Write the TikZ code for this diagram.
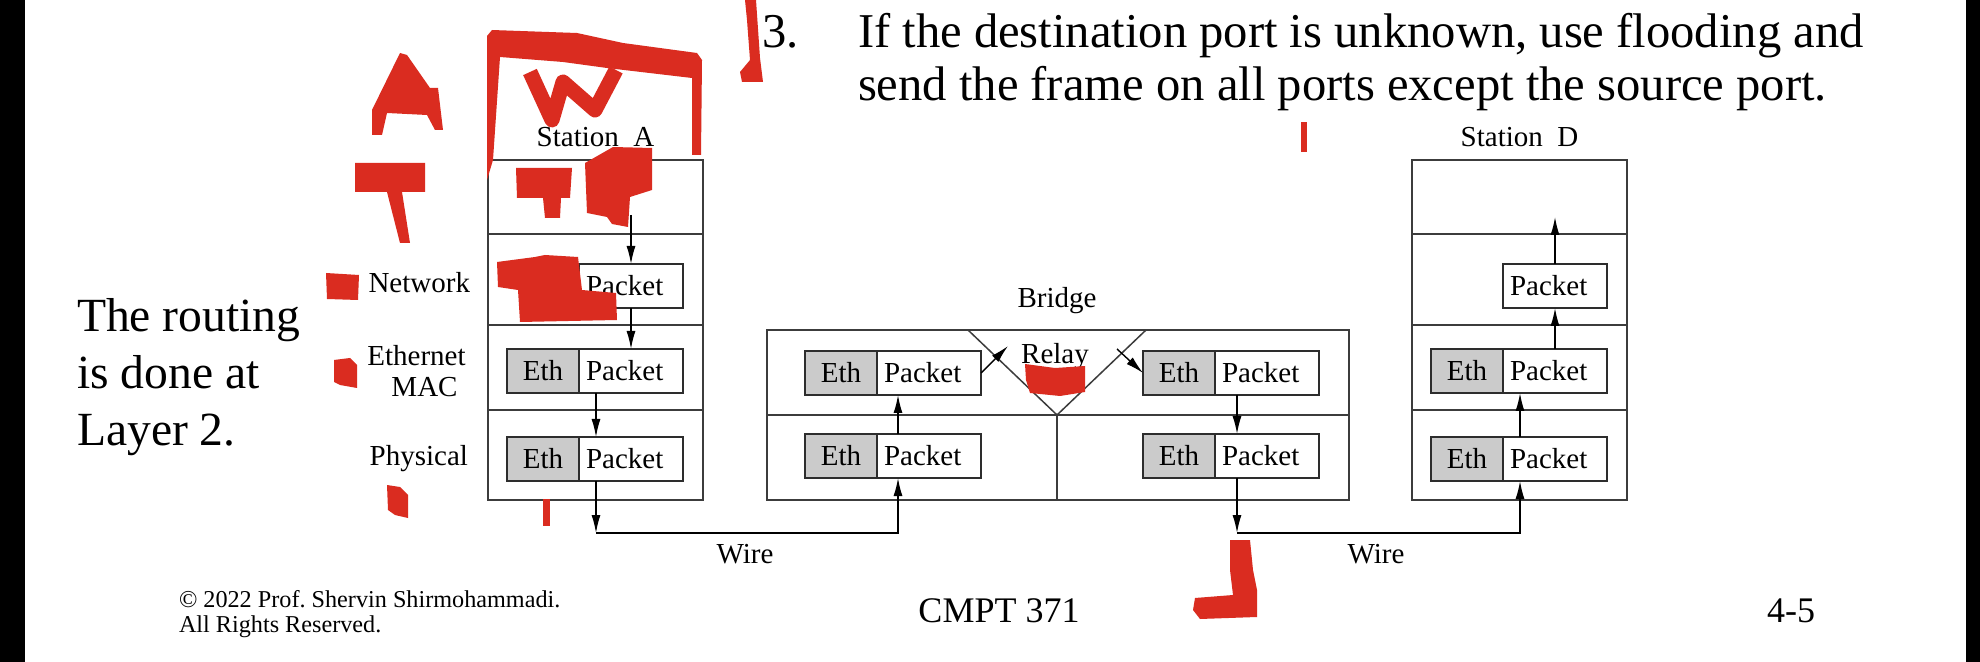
\documentclass[tikz,border=0pt]{standalone}
\usepackage{fontspec}
\setmainfont{Liberation Serif}
\usetikzlibrary{arrows.meta,calc}
\definecolor{redmark}{RGB}{218,44,32}
\definecolor{ethgray}{RGB}{203,203,203}
\definecolor{boxline}{RGB}{60,60,60}
\definecolor{pktline}{RGB}{45,45,45}
\newcommand\dgfont{\fontsize{14.5}{17}\selectfont}
\newcommand\titlefont{\fontsize{24.3}{28}\selectfont}
\newcommand\sidefont{\fontsize{23.8}{28}\selectfont}
\newcommand\footfont{\fontsize{12.1}{14}\selectfont}
\newcommand\cmptfont{\fontsize{18}{21}\selectfont}
\begin{document}
\begin{tikzpicture}[x=0.5pt,y=-0.5pt,
  every node/.style={inner sep=0pt,outer sep=0pt},
  layer/.style={draw=boxline,line width=0.75pt,minimum width=107.5pt,anchor=north west},
  brlayer/.style={draw=boxline,line width=0.75pt,minimum width=291pt,minimum height=42.5pt,anchor=north west},
  eth/.style={draw=pktline,fill=ethgray,line width=0.9pt,minimum width=36pt,minimum height=22pt,anchor=north west,font=\dgfont},
  pkt/.style={draw=pktline,fill=white,line width=0.9pt,minimum width=52pt,minimum height=22pt,anchor=north west,font=\dgfont,inner xsep=3.5pt,text width=45pt,align=left},
  lbl/.style={font=\dgfont,anchor=base},
  arr/.style={draw=black,line width=0.7pt,-{Latex[length=9pt,width=4.5pt]}},
  redblob/.style={fill=redmark,draw=none}]
\useasboundingbox (0,0) rectangle (1980,662);
\fill[white] (0,0) rectangle (1980,662);
\fill[black] (0,0) rectangle (25,662);
\fill[black] (1966,0) rectangle (1980,662);

% title
\node[anchor=base west,font=\titlefont] (num) at (762,48) {3.};
\node[anchor=base west,font=\titlefont] (t1) at (858,48) {If the destination port is unknown, use flooding and};
\node[anchor=base west,font=\titlefont] (t2) at (858,101) {send the frame on all ports except the source port.};

% side text
\node[anchor=base west,font=\sidefont] (s1) at (77,332) {The routing};
\node[anchor=base west,font=\sidefont] (s2) at (77,388) {is done at};
\node[anchor=base west,font=\sidefont] (s3) at (77,445) {Layer 2.};

% layer labels
\node[font=\dgfont,anchor=base east] (lnet) at (470,293) {Network};
\node[lbl] (leth) at (416.5,365) {Ethernet};
\node[lbl] (lmac) at (424.5,397) {MAC};
\node[font=\dgfont,anchor=base east] (lphy) at (468,466) {Physical};

% Station A
\node[lbl] (stA) at (595.5,147) {Station\ \ A};
\node[layer,minimum height=37pt] (aL1) at (488,160) {};
\node[layer,minimum height=45.5pt] (aL2) at (488,234) {};
\node[layer,minimum height=42.5pt] (aL3) at (488,325) {};
\node[layer,minimum height=45pt] (aL4) at (488,410) {};
\node[pkt] (aNet) at (579,264) {Packet};
\node[eth] (aMacE) at (507,349) {Eth};
\node[pkt] (aMacP) at (579,349) {Packet};
\node[eth] (aPhyE) at (507,437) {Eth};
\node[pkt] (aPhyP) at (579,437) {Packet};

% Bridge
\node[lbl] (brg) at (1057,308) {Bridge};
\node[brlayer] (bU) at (767,330) {};
\node[brlayer] (bL) at (767,415) {};
\coordinate (tL) at (968,330);
\coordinate (tR) at (1146,330);
\coordinate (tA) at (1057,415);
\draw[boxline,line width=0.75pt] (tL) -- (tA) -- (tR) -- cycle;
\draw[boxline,line width=0.75pt] (tA) -- (tA |- bL.south);
\node[lbl] (relay) at (1055,364) {Relay};
\node[eth] (blUE) at (805,351) {Eth};
\node[pkt] (blUP) at (877,351) {Packet};
\node[eth] (blLE) at (805,434) {Eth};
\node[pkt] (blLP) at (877,434) {Packet};
\node[eth] (brUE) at (1143,351) {Eth};
\node[pkt] (brUP) at (1215,351) {Packet};
\node[eth] (brLE) at (1143,434) {Eth};
\node[pkt] (brLP) at (1215,434) {Packet};

% Station D
\node[lbl] (stD) at (1519.5,147) {Station\ \ D};
\node[layer,minimum height=37pt] (dL1) at (1412,160) {};
\node[layer,minimum height=45.5pt] (dL2) at (1412,234) {};
\node[layer,minimum height=42.5pt] (dL3) at (1412,325) {};
\node[layer,minimum height=45pt] (dL4) at (1412,410) {};
\node[pkt] (dNet) at (1503,264) {Packet};
\node[eth] (dMacE) at (1431,349) {Eth};
\node[pkt] (dMacP) at (1503,349) {Packet};
\node[eth] (dPhyE) at (1431,437) {Eth};
\node[pkt] (dPhyP) at (1503,437) {Packet};

% connectors
\coordinate (aTop) at (631,215);
\draw[arr] (aTop) -- (aNet.north);
\draw[arr] (aNet.south) -- (aNet.south |- aMacP.north);
\draw[arr] ([xshift=8.5pt]aMacP.south west) -- ([xshift=8.5pt]aPhyP.north west);
\coordinate (wA) at (596,533);
\draw[arr] ([xshift=8.5pt]aPhyP.south west) -- (wA);
\draw[arr] (wA) -| ([xshift=10.5pt]blLP.south west);
\draw[arr] ([xshift=10.5pt]blLP.north west) -- ([xshift=10.5pt]blUP.south west);
\coordinate (rL) at (1008,346);
\draw[arr] (blUP.east) -- (rL);
\coordinate (rR) at (1117,349);
\draw[arr] (rR) -- (brUE.west);
\draw[arr] ([xshift=11pt]brUP.south west) -- ([xshift=11pt]brLP.north west);
\coordinate (wB) at (1237,533);
\draw[arr] ([xshift=11pt]brLP.south west) -- (wB);
\draw[arr] (wB) -| ([xshift=8.5pt]dPhyP.south west);
\draw[arr] ([xshift=8.5pt]dPhyP.north west) -- ([xshift=8.5pt]dMacP.south west);
\draw[arr] (dMacP.north) -- (dNet.south);
\coordinate (dTop) at (1555,217);
\draw[arr] (dNet.north) -- (dTop);
\node[lbl] (wire1) at (745,563) {Wire};
\node[lbl] (wire2) at (1376,563) {Wire};

% footer
\node[anchor=base west,font=\footfont] (f1) at (179,607) {\textcopyright{} 2022 Prof.\ Shervin Shirmohammadi.};
\node[anchor=base west,font=\footfont] (f2) at (179,632) {All Rights Reserved.};
\node[anchor=base,font=\cmptfont] (course) at (999,622) {CMPT 371};
\node[anchor=base west,font=\cmptfont] (page) at (1767,622) {4-5};

% red annotations
\fill[redblob] (400,53) -- (407,55) -- (430,88) -- (438,88) -- (443,130) -- (435,130) -- (427,115) -- (387,113) -- (382,135) -- (372,135) -- (372,110) -- cycle;
\fill[redblob] (355,163) -- (425,163) -- (425,192) -- (402,192) -- (410,243) -- (400,243) -- (387,192) -- (355,192) -- cycle;
\fill[redblob] (487,36) -- (492,30) -- (577,33) -- (623,43) -- (697,53) -- (702,60) -- (701,155) -- (692,155) -- (692,78) -- (607,68) -- (563,62) -- (500,57) -- (493,160) -- (487,180) -- cycle;
\draw[redmark,line width=7.5pt,line join=round,line cap=butt] (530,72) -- (552,120) -- (563,82) -- (595,110) -- (616,70);
\fill[redblob] (516,168) -- (572,168) -- (570,198) -- (561,198) -- (560,218) -- (545,218) -- (543,198) -- (517,198) -- cycle;
\fill[redblob] (585,163) -- (613,147) -- (652,148) -- (652,190) -- (630,197) -- (628,227) -- (612,224) -- (607,217) -- (587,213) -- cycle;
\fill[redblob] (497,262) -- (535,257) -- (545,255) -- (578,257) -- (582,290) -- (616,293) -- (617,320) -- (520,322) -- (518,290) -- (498,287) -- cycle;
\fill[redblob] (326,273) -- (359,275) -- (358,300) -- (327,299) -- cycle;
\fill[redblob] (334,360) -- (350,358) -- (357,365) -- (357,388) -- (340,385) -- (334,382) -- cycle;
\fill[redblob] (387,485) -- (400,487) -- (408,495) -- (408,518) -- (395,515) -- (388,510) -- cycle;
\fill[redblob] (543,499) rectangle (550,526);
\fill[redblob] (1025,364) -- (1055,368) -- (1085,366) -- (1085,392) -- (1060,396) -- (1030,393) -- (1026,380) -- cycle;
\fill[redblob] (1230,540) -- (1250,540) -- (1253,570) -- (1257,590) -- (1257,617) -- (1200,619) -- (1193,610) -- (1195,598) -- (1233,595) -- (1230,570) -- cycle;
\fill[redblob] (1301,122) rectangle (1307,152);
\fill[redblob] (745,0) -- (756,0) -- (760,58) -- (763,82) -- (742,82) -- (740,72) -- (750,60) -- (747,20) -- cycle;
\end{tikzpicture}
\end{document}
